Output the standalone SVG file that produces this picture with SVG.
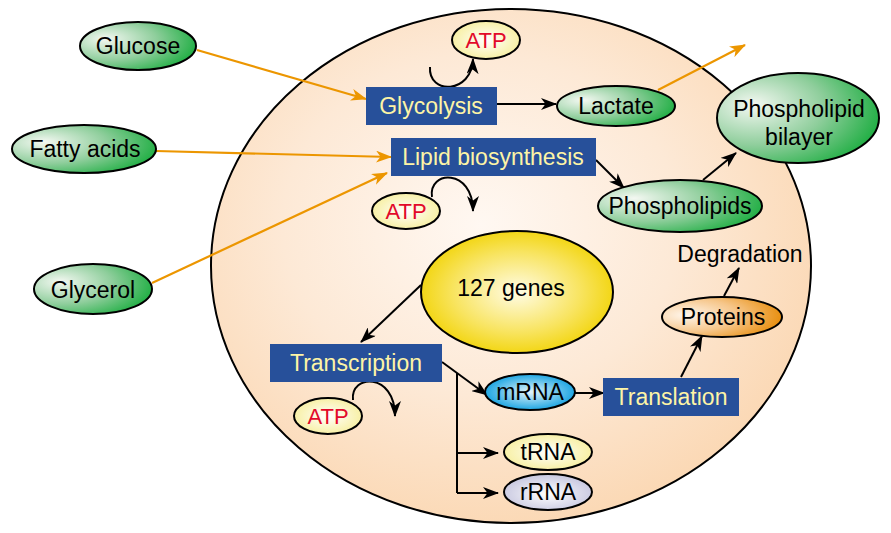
<svg xmlns="http://www.w3.org/2000/svg" width="891" height="533" viewBox="0 0 891 533">
<defs>
<radialGradient id="gCell" cx="0.45" cy="0.42" r="0.6">
<stop offset="0" stop-color="#fff8f2"/>
<stop offset="0.55" stop-color="#fde9d6"/>
<stop offset="1" stop-color="#fbd8b4"/>
</radialGradient>
<radialGradient id="gGreen" cx="0.25" cy="0.4" r="0.85" fx="0.22" fy="0.35">
<stop offset="0" stop-color="#f4f8f2"/>
<stop offset="0.5" stop-color="#8fce9c"/>
<stop offset="1" stop-color="#0aa832"/>
</radialGradient>
<radialGradient id="gBlue" cx="0.5" cy="0.5" r="0.55">
<stop offset="0" stop-color="#e4f4fb"/>
<stop offset="1" stop-color="#0a9ee0"/>
</radialGradient>
<radialGradient id="gYel" cx="0.5" cy="0.5" r="0.55">
<stop offset="0" stop-color="#ffffff"/>
<stop offset="1" stop-color="#f7ee9c"/>
</radialGradient>
<radialGradient id="gLav" cx="0.5" cy="0.55" r="0.55">
<stop offset="0" stop-color="#ffffff"/>
<stop offset="1" stop-color="#c6c6df"/>
</radialGradient>
<radialGradient id="gOrange" cx="0.2" cy="0.45" r="0.85">
<stop offset="0" stop-color="#fff6ec"/>
<stop offset="0.5" stop-color="#f6c68a"/>
<stop offset="1" stop-color="#e78800"/>
</radialGradient>
<radialGradient id="gGenes" cx="0.5" cy="0.5" r="0.55">
<stop offset="0" stop-color="#fffce6"/>
<stop offset="0.6" stop-color="#f8e460"/>
<stop offset="1" stop-color="#f1d200"/>
</radialGradient>
<marker id="ah" viewBox="0 0 16 12" refX="15" refY="6" markerWidth="16" markerHeight="12" markerUnits="userSpaceOnUse" orient="auto">
<path d="M0,0 L16,6 L0,12 L4.5,6 z" fill="#000"/>
</marker>
<marker id="aho" viewBox="0 0 16 12" refX="15" refY="6" markerWidth="16" markerHeight="12" markerUnits="userSpaceOnUse" orient="auto">
<path d="M0,0 L16,6 L0,12 L4.5,6 z" fill="#ec9600"/>
</marker>
</defs>
<style>
text{font-family:"Liberation Sans",Arial,sans-serif;font-size:23px;text-anchor:middle}
.lbl{fill:#000}
.box{fill:#27509a}
.bt{fill:#fdf4a6}
.atp{fill:#e20a2a;font-size:22px}
.el{stroke:#000;stroke-width:2}
.c{fill:none;stroke:#000;stroke-width:2;marker-end:url(#ah)}
.o{fill:none;stroke:#ec9600;stroke-width:2.2;marker-end:url(#aho)}
</style>

<g id="cell"><ellipse cx="511" cy="266" rx="300" ry="257" fill="url(#gCell)" stroke="#000" stroke-width="2"/></g>

<g id="connectors">
<line class="o" x1="197" y1="50" x2="366" y2="99"/>
<line class="o" x1="156" y1="151" x2="391" y2="157"/>
<line class="o" x1="152" y1="283" x2="387" y2="173"/>
<line class="o" x1="658" y1="90" x2="745" y2="45"/>
<path class="c" d="M430,67 C428,95 472,94 473,59"/>
<path class="c" d="M432,197 C428,170 473,168 473,211"/>
<path class="c" d="M353,400 C350,374 395,372 395,416"/>
<line class="c" x1="497" y1="104" x2="556" y2="104"/>
<line class="c" x1="596" y1="160" x2="624" y2="188"/>
<line class="c" x1="703" y1="180" x2="736" y2="153"/>
<line class="c" x1="421" y1="285" x2="361" y2="342"/>
<line class="c" x1="442" y1="362" x2="487" y2="395"/>
<path d="M457,373 V493" fill="none" stroke="#000" stroke-width="2"/>
<line class="c" x1="457" y1="453" x2="498" y2="453"/>
<line class="c" x1="457" y1="493" x2="498" y2="493"/>
<line class="c" x1="575" y1="393" x2="604" y2="393"/>
<line class="c" x1="681" y1="377" x2="702" y2="336"/>
<line class="c" x1="724" y1="296" x2="739" y2="268"/>
</g>

<g id="glucose"><ellipse class="el" cx="138" cy="46" rx="58" ry="24" fill="url(#gGreen)"/><text class="lbl" x="138" y="54">Glucose</text></g>
<g id="fatty-acids"><ellipse class="el" cx="84" cy="149" rx="72" ry="24" fill="url(#gGreen)"/><text class="lbl" x="85" y="157">Fatty acids</text></g>
<g id="glycerol"><ellipse class="el" cx="93" cy="289" rx="59" ry="25" fill="url(#gGreen)"/><text class="lbl" x="93" y="298">Glycerol</text></g>

<g id="glycolysis"><rect class="box" x="366" y="87" width="131" height="38"/><text class="bt" x="431" y="114">Glycolysis</text></g>
<g id="lipid-biosynthesis"><rect class="box" x="391" y="138" width="205" height="38"/><text class="bt" x="493" y="165">Lipid biosynthesis</text></g>
<g id="atp1"><ellipse class="el" cx="486" cy="40" rx="34" ry="19" fill="url(#gYel)"/><text class="atp" x="486" y="48">ATP</text></g>
<g id="atp2"><ellipse class="el" cx="406" cy="211" rx="34" ry="18" fill="url(#gYel)"/><text class="atp" x="406" y="219">ATP</text></g>
<g id="lactate"><ellipse class="el" cx="616" cy="106" rx="59" ry="20" fill="url(#gGreen)"/><text class="lbl" x="616" y="114">Lactate</text></g>
<g id="phospholipid-bilayer"><ellipse class="el" cx="798" cy="118" rx="81" ry="45" fill="url(#gGreen)"/><text class="lbl" x="799" y="117">Phospholipid</text><text class="lbl" x="799" y="145">bilayer</text></g>
<g id="phospholipids"><ellipse class="el" cx="680" cy="206" rx="82" ry="26" fill="url(#gGreen)"/><text class="lbl" x="680" y="214">Phospholipids</text></g>
<g id="genes"><ellipse class="el" cx="517" cy="292" rx="96" ry="61" fill="url(#gGenes)"/><text class="lbl" x="511" y="296">127 genes</text></g>
<g id="transcription"><rect class="box" x="270" y="344" width="172" height="38"/><text class="bt" x="356" y="371">Transcription</text></g>
<g id="atp3"><ellipse class="el" cx="328" cy="416" rx="34" ry="18" fill="url(#gYel)"/><text class="atp" x="328" y="424">ATP</text></g>
<g id="mrna"><ellipse class="el" cx="530" cy="392" rx="45" ry="18" fill="url(#gBlue)"/><text class="lbl" x="530" y="400">mRNA</text></g>
<g id="translation"><rect class="box" x="603" y="378" width="136" height="38"/><text class="bt" x="671" y="405">Translation</text></g>
<g id="trna"><ellipse class="el" cx="548" cy="452" rx="44" ry="18" fill="url(#gYel)"/><text class="lbl" x="548" y="460">tRNA</text></g>
<g id="rrna"><ellipse class="el" cx="548" cy="492" rx="44" ry="18" fill="url(#gLav)"/><text class="lbl" x="548" y="500">rRNA</text></g>
<g id="proteins"><ellipse class="el" cx="722" cy="317" rx="60" ry="20" fill="url(#gOrange)"/><text class="lbl" x="723" y="325">Proteins</text></g>
<g id="degradation"><text class="lbl" x="740" y="262">Degradation</text></g>
</svg>
